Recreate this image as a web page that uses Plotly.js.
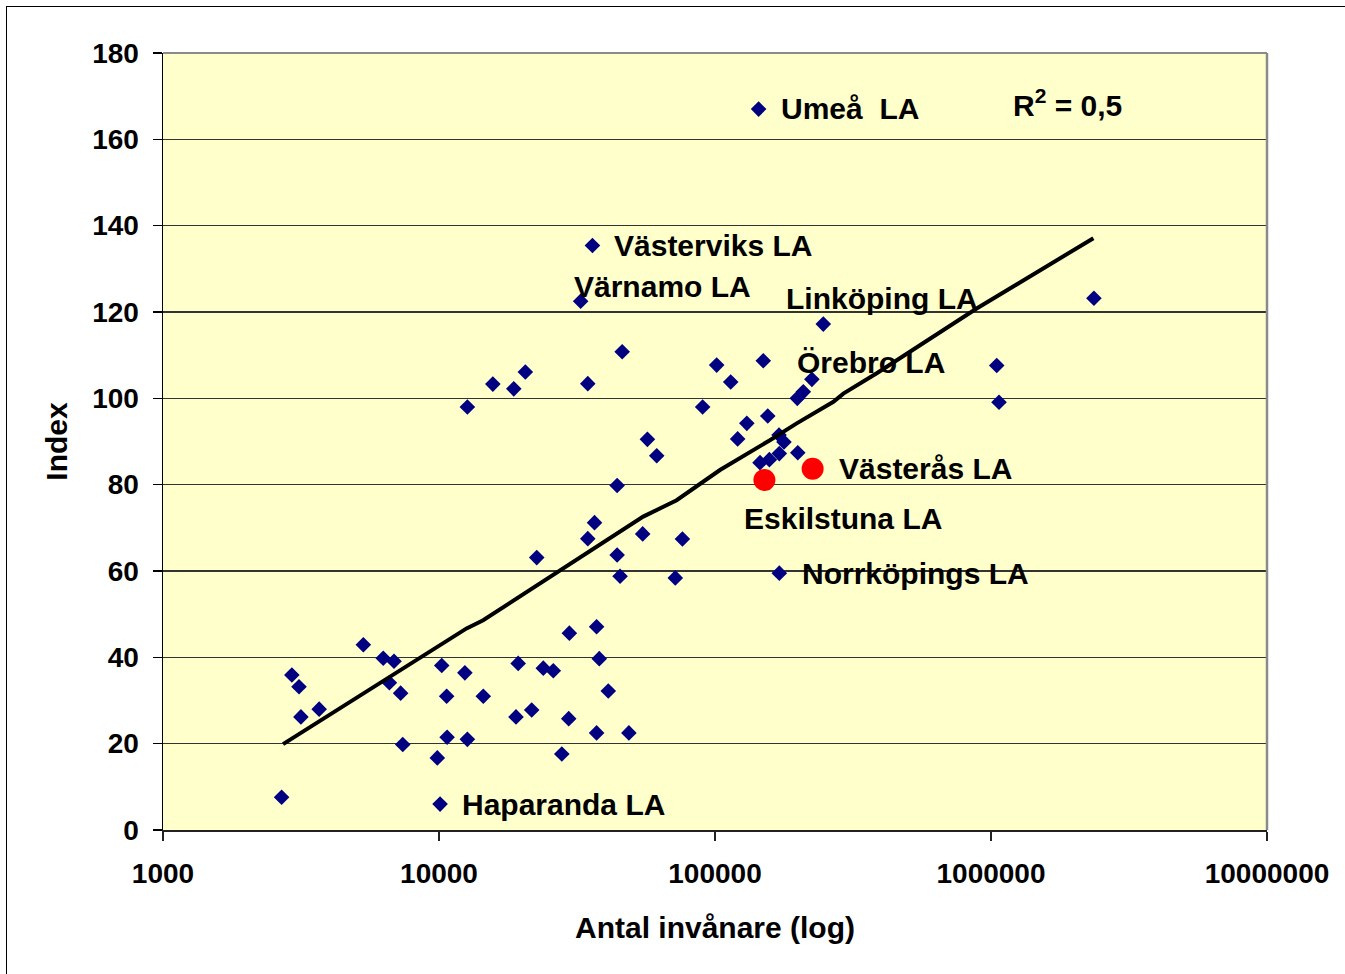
<!DOCTYPE html>
<html>
<head>
<meta charset="utf-8">
<script src="https://cdn.plot.ly/plotly-3.0.1.min.js"></script>
<style>
html,body{margin:0;padding:0;background:#fff;}
#wrap{position:relative;width:1345px;height:974px;overflow:hidden;}
#chart{width:1345px;height:974px;}
#frame{position:absolute;left:6px;top:6px;width:1400px;height:1000px;border-left:1.5px solid #000;border-top:1.5px solid #000;pointer-events:none;}
</style>
</head>
<body>
<div id="wrap"><div id="chart"></div><div id="frame"></div></div>
<script>
// Blue series: population (x) and index (y)
const popBlue = [2690, 2930, 3110, 3160, 3680, 5320, 6280, 6870, 6610, 7260, 7390, 9860, 10090, 10230, 10660, 10700,
  12410, 12670, 14470, 19360, 19010, 21670, 23870, 25950, 29670, 29510, 27860, 37240, 38080, 41050, 37240, 48750,
  12670, 15670, 18660, 20550, 34600, 46100, 90200, 101400, 56900, 61500, 44200, 36600, 34600, 54700, 76200, 22600,
  44200, 45300, 71800, 35970, 32600, 143900, 246800, 149600, 114000, 224400, 208900, 198700, 130400, 155300, 120800,
  170600, 177800, 171000, 199500, 145600, 157400, 171000, 2360000, 1049000, 1069000];
const indexBlue = [7.6, 35.9, 33.2, 26.2, 28.0, 42.9, 39.8, 39.1, 34.1, 31.7, 19.8, 16.7, 6.0, 38.1, 31.0, 21.5,
  36.4, 21.0, 31.0, 38.6, 26.2, 27.8, 37.5, 36.9, 45.6, 25.8, 17.6, 47.1, 39.7, 32.2, 22.5, 22.5,
  98.0, 103.3, 102.2, 106.1, 103.4, 110.8, 98.0, 107.7, 90.5, 86.7, 79.8, 71.2, 67.5, 68.6, 67.4, 63.1,
  63.7, 58.8, 58.4, 135.4, 122.5, 167.0, 117.2, 108.7, 103.8, 104.4, 101.5, 100.0, 94.2, 95.9, 90.6,
  91.5, 89.9, 87.2, 87.4, 85.1, 85.8, 59.5, 123.2, 107.6, 99.1];

// Highlighted (red) series
const popRed = [151000, 225800];
const indexRed = [81.1, 83.7];

// Trend line
const trendPop = [2723, 6546, 12589, 14454, 28184, 36224, 54954, 72611, 88308, 104232, 158125, 197697, 268534, 291743, 385478, 709578, 887156, 2349630];
const trendIndex = [19.9, 35.1, 46.7, 48.6, 60.6, 64.9, 72.6, 76.4, 80.3, 83.4, 90.3, 94.2, 99.2, 101.1, 105.8, 116.6, 120.8, 137.1];

// Labels: name, series ('b' blue / 'r' red), point index
const labelNames = ["Umeå  LA", "Västerviks LA", "Värnamo LA", "Linköping LA", "Örebro LA", "Västerås LA", "Eskilstuna LA", "Norrköpings LA", "Haparanda LA"];
const labelSeries = ["b", "b", "b", "b", "b", "r", "r", "b", "b"];
const labelPoint = [53, 51, 52, 54, 57, 1, 0, 69, 12];
const labelShift = [[20, 1], [20, 0], [-9, 15], [-39, 26], [-17, 17], [24, 0], [-22, -39], [21, 0], [20, 0]];

const xTickVals = [1000, 10000, 100000, 1000000, 10000000];
const xTickText = ["1000", "10000", "100000", "1000000", "10000000"];

const FONT = "Liberation Sans, Arial, sans-serif";

const traces = [
  {x: popBlue, y: indexBlue, type: 'scatter', mode: 'markers',
   marker: {symbol: 'diamond', size: 12, color: '#000080'}, hoverinfo: 'skip'},
  {x: popRed, y: indexRed, type: 'scatter', mode: 'markers',
   marker: {symbol: 'circle', size: 22, color: '#FF0000'}, hoverinfo: 'skip'},
  {x: trendPop, y: trendIndex, type: 'scatter', mode: 'lines',
   line: {color: '#000', width: 4}, hoverinfo: 'skip'}
];

const annotations = labelNames.map((n, i) => {
  const xs = labelSeries[i] === 'r' ? popRed : popBlue;
  const ys = labelSeries[i] === 'r' ? indexRed : indexBlue;
  return {x: Math.log10(xs[labelPoint[i]]), y: ys[labelPoint[i]], xref: 'x', yref: 'y',
    text: n, showarrow: false, xanchor: 'left', yanchor: 'middle',
    xshift: labelShift[i][0], yshift: labelShift[i][1],
    font: {family: FONT, size: 30, color: '#000', weight: 'bold'}};
});
annotations.push({x: 0.768, y: 0.936, xref: 'paper', yref: 'paper', text: 'R<sup>2</sup> = 0,5',
  showarrow: false, xanchor: 'left', yanchor: 'middle',
  font: {family: FONT, size: 30, color: '#000', weight: 'bold'}});

const layout = {
  width: 1345, height: 974,
  margin: {l: 163, r: 78, t: 53, b: 144},
  paper_bgcolor: '#FFFFFF', plot_bgcolor: '#FFFFCC',
  showlegend: false,
  font: {family: FONT, color: '#000'},
  xaxis: {type: 'log', range: [3, 7], tickvals: xTickVals, ticktext: xTickText,
    showgrid: false, zeroline: false, showline: true, linecolor: '#222', linewidth: 2,
    ticks: 'outside', ticklen: 9, tickcolor: '#222', tickwidth: 1.3,
    tickfont: {family: FONT, size: 28, color: '#000', weight: 'bold'},
    ticklabelstandoff: 8,
    title: {text: 'Antal invånare (log)', standoff: 29, font: {family: FONT, size: 30, color: '#000', weight: 'bold'}}},
  yaxis: {range: [0, 180], tick0: 0, dtick: 20,
    showgrid: true, gridcolor: '#333333', gridwidth: 1.3, zeroline: false,
    showline: true, linecolor: '#000', linewidth: 1.5,
    ticks: 'outside', ticklen: 9, tickcolor: '#000', tickwidth: 1.3,
    tickfont: {family: FONT, size: 28, color: '#000', weight: 'bold'},
    ticklabelstandoff: 8,
    title: {text: 'Index', standoff: 15, font: {family: FONT, size: 30, color: '#000', weight: 'bold'}}},
  shapes: [
    {type: 'line', xref: 'paper', yref: 'paper', x0: 0, x1: 1, y0: 1, y1: 1, line: {color: '#8a8a8a', width: 2}},
    {type: 'line', xref: 'paper', yref: 'paper', x0: 1, x1: 1, y0: 0, y1: 1, line: {color: '#8a8a8a', width: 2.5}}
  ],
  annotations: annotations
};

Plotly.newPlot('chart', traces, layout, {displayModeBar: false, staticPlot: true});
</script>
</body>
</html>
